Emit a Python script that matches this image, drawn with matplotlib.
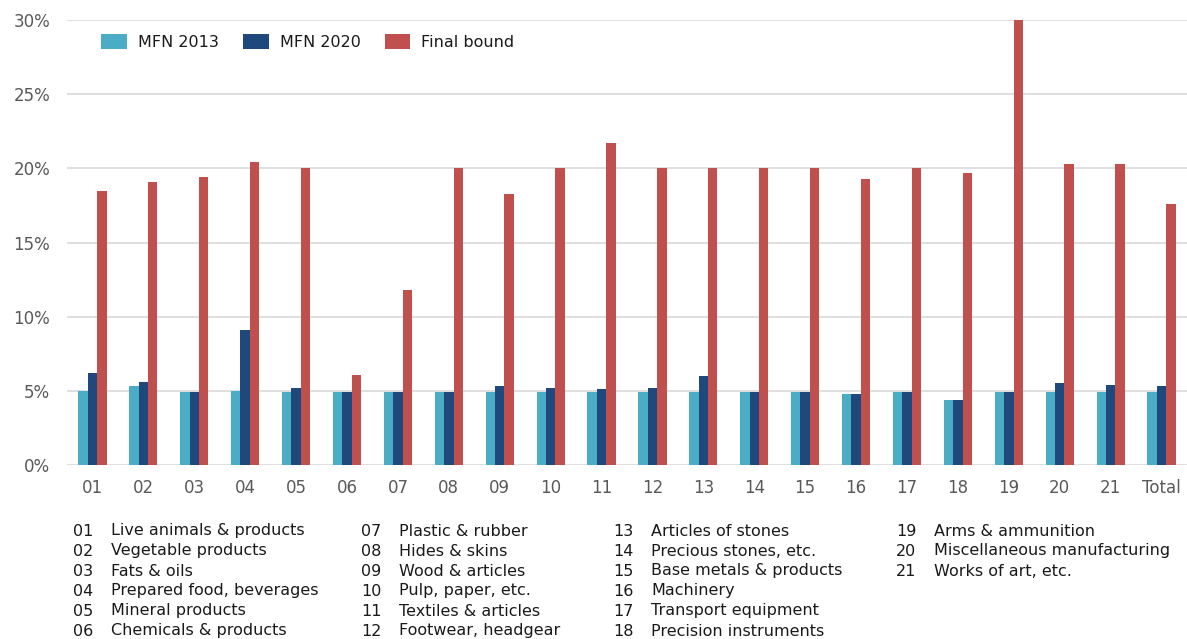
import matplotlib
matplotlib.use("Agg")
import matplotlib.pyplot as plt
import numpy as np

plt.rcParams['font.family'] = ['DejaVu Sans']

categories = ["01", "02", "03", "04", "05", "06", "07", "08", "09", "10", "11",
              "12", "13", "14", "15", "16", "17", "18", "19", "20", "21", "Total"]
mfn_2013 = [5.0, 5.3, 4.9, 5.0, 4.9, 4.9, 4.9, 4.9, 4.9, 4.9, 4.9,
            4.9, 4.9, 4.9, 4.9, 4.8, 4.9, 4.4, 4.9, 4.9, 4.9, 4.9]
mfn_2020 = [6.2, 5.6, 4.9, 9.1, 5.2, 4.9, 4.9, 4.9, 5.3, 5.2, 5.1,
            5.2, 6.0, 4.9, 4.9, 4.8, 4.9, 4.4, 4.9, 5.5, 5.4, 5.3]
final_bound = [18.5, 19.1, 19.4, 20.4, 20.0, 6.1, 11.8, 20.0, 18.3, 20.0, 21.7,
               20.0, 20.0, 20.0, 20.0, 19.3, 20.0, 19.7, 30.0, 20.3, 20.3, 17.6]
series_names = ["MFN 2013", "MFN 2020", "Final bound"]
y_ticks = [0, 5, 10, 15, 20, 25, 30]

key_codes = ["01", "02", "03", "04", "05", "06", "07", "08", "09", "10", "11",
             "12", "13", "14", "15", "16", "17", "18", "19", "20", "21"]
key_names = ["Live animals & products", "Vegetable products", "Fats & oils",
             "Prepared food, beverages", "Mineral products", "Chemicals & products",
             "Plastic & rubber", "Hides & skins", "Wood & articles", "Pulp, paper, etc.",
             "Textiles & articles", "Footwear, headgear", "Articles of stones",
             "Precious stones, etc.", "Base metals & products", "Machinery",
             "Transport equipment", "Precision instruments", "Arms & ammunition",
             "Miscellaneous manufacturing", "Works of art, etc."]

colors = ["#4BACC6", "#1F497D", "#C0504D"]

W, H = 1187, 639
fig = plt.figure(figsize=(W / 100, H / 100), dpi=100)
ax = fig.add_axes([67 / W, (H - 465) / H, 1120 / W, 445 / H])

x = np.arange(len(categories))
bw = 0.185
for i, (vals, name) in enumerate(zip([mfn_2013, mfn_2020, final_bound], series_names)):
    ax.bar(x + (i - 1) * bw, vals, width=bw, color=colors[i], label=name, zorder=3)

ax.set_xlim(-0.5, len(categories) - 0.5)
ax.set_ylim(0, 30)
ax.set_yticks(y_ticks)
ax.set_yticklabels([f"{v}%" for v in y_ticks])
ax.set_xticks(x)
ax.set_xticklabels(categories)
ax.grid(axis="y", color="#D9D9D9", linewidth=1.2, zorder=0)
ax.set_axisbelow(True)
for s in ax.spines.values():
    s.set_visible(False)
ax.tick_params(axis="both", length=0, labelsize=12, labelcolor="#595959")
ax.tick_params(axis="x", pad=10)
ax.tick_params(axis="y", pad=12)

leg = ax.legend(loc="upper left", bbox_to_anchor=(20 / 1120, 1.0), ncol=3, frameon=False,
                fontsize=11.5, handlelength=1.6, handleheight=1.05, handletextpad=0.7,
                columnspacing=1.5)
for t in leg.get_texts():
    t.set_color("#1a1a1a")

col_x = [(73, 111), (361, 399), (613, 651), (896, 934)]
for k, (code, name) in enumerate(zip(key_codes, key_names)):
    col, row = divmod(k, 6)
    yc = 531 + row * 20
    xn, xt = col_x[col]
    fig.text(xn / W, 1 - yc / H, code, fontsize=11.5, va="center", ha="left", color="#1a1a1a")
    fig.text(xt / W, 1 - yc / H, name, fontsize=11.5, va="center", ha="left", color="#1a1a1a")

fig.savefig("out.png", dpi=100)
